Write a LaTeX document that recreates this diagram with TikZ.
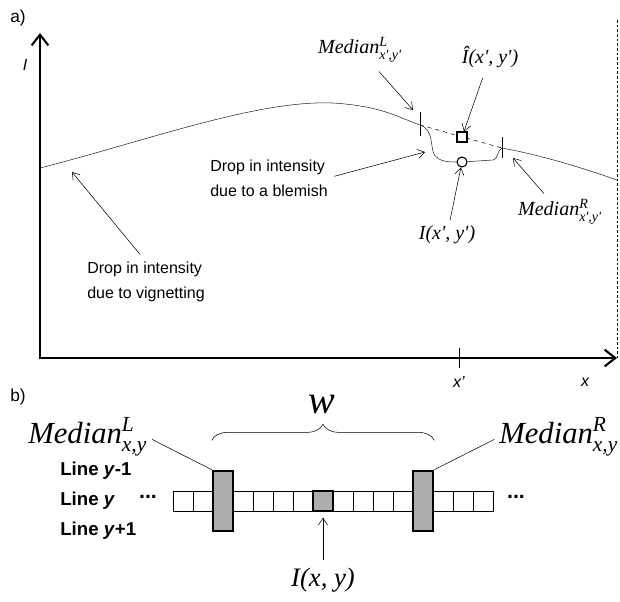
\documentclass[tikz,border=0pt]{standalone}
\usepackage{amsmath}
\usepackage{fontspec}
\setmainfont{Liberation Sans}
\newfontfamily\tnr{Liberation Serif}
\usetikzlibrary{positioning,arrows.meta,decorations.pathreplacing,calc}
\newcommand{\medlab}[2]{{\tnr\itshape Median}$^{\text{\tnr\itshape #1}}_{\text{\tnr\itshape #2}}$}

\begin{document}
\begin{tikzpicture}[x=0.75pt,y=-0.75pt,
    axis/.style={line width=2.2pt,-{Straight Barb[length=2.8mm,width=4.4mm,line width=1.6pt]}},
    pointer/.style={thin,-{Straight Barb[length=1.8mm,width=2.4mm]}},
    txt/.style={font=\fontsize{12}{19}\selectfont,align=left,inner sep=0pt},
    mtop/.style={font=\fontsize{15}{18}\selectfont,inner sep=0pt},
    mbot/.style={font=\fontsize{23}{27}\selectfont,inner sep=0pt},
    cell/.style={draw,thin,minimum size=15pt,inner sep=0pt},
    tallcell/.style={draw,line width=2pt,fill=black!32,minimum width=15pt,minimum height=45pt,inner sep=0pt},
    hotcell/.style={draw,line width=2pt,fill=black!32,minimum size=15pt,inner sep=0pt},
    rowlbl/.style={font=\bfseries\fontsize{14}{16}\selectfont,anchor=west,inner sep=0pt},
    dots/.style={font=\bfseries\fontsize{16}{18}\selectfont,inner sep=0pt}]
    \useasboundingbox (0,0) rectangle (620,601);

    % a) intensity profile
    \node[font=\fontsize{13}{15}\selectfont] (pa) at (18,18) {a)};
    \coordinate (orig) at (40,358);
    \coordinate (ytop) at (40,33);
    \coordinate (xend) at (617,358);
    \draw[axis] ([yshift=-1.1pt]orig) -- (ytop);
    \draw[axis] (orig) -- (xend);
    \draw[dash pattern=on 2pt off 1.5pt] (617,20) -- (617,358);
    \node[font=\itshape\fontsize{12}{14}\selectfont] (ylbl) at (25,65) {I};
    \node[font=\itshape\fontsize{12}{14}\selectfont] (xlbl) at (585,382) {x};
    \draw[semithick] (459,348) -- (459,368);
    \node[font=\itshape\fontsize{12}{14}\selectfont] (xplbl) at (459,382) {x'};

    \coordinate (tkL) at (420,125);
    \coordinate (tkR) at (502,148);
    \node[draw,thick,circle,minimum size=7.5pt,inner sep=0pt] (obs) at (462,162) {};
    \draw[black!85] (40,168) .. controls (150,140) and (270,95) .. (345,104)
        .. controls (385,108) and (400,118) .. (tkL);
    \draw[black!85] (tkL) .. controls (434,130) and (430,146) .. (434,154)
        .. controls (438,161) and (446,162) .. (obs) -- (493,160)
        .. controls (498,160) and (497,150) .. (tkR);
    \draw[black!85] (tkR) .. controls (540,155) and (580,167) .. (617,180);
    \draw[dashed] (tkL) -- (tkR);
    \node[draw,thick,fill=white,minimum size=7.5pt,inner sep=0pt] (est) at (462,137) {};
    \draw[semithick] (420,112) -- (420,136);
    \draw[semithick] (502,137) -- (502,158);

    \coordinate (hitL) at (413,110);
    \coordinate (hitB) at (425,152);
    \coordinate (hitR) at (513,158);
    \coordinate (hitV) at (72,172);
    \node[mtop] (medLt) at (360,50) {\medlab{L}{x',y'}};
    \node[mtop] (hatI) at (490,57) {{\tnr\itshape Î(x', y')}};
    \node[mtop] (obsI) at (447,235) {{\tnr\itshape I(x', y')}};
    \node[mtop] (medRt) at (560,212) {\medlab{R}{x',y'}};
    \node[txt,anchor=west] (blm) at (210,178) {Drop in intensity\\due to a blemish};
    \node[txt,anchor=west] (vig) at (87,282) {Drop in intensity\\due to vignetting};
    \draw[pointer,shorten <=9pt] (medLt) -- (hitL);
    \draw[pointer,shorten <=8pt] (hatI) -- (est);
    \draw[pointer,shorten <=4pt] (obsI) -- (obs);
    \draw[pointer,shorten <=6pt] (medRt) -- (hitR);
    \draw[pointer,shorten <=5pt] (blm.east) -- (hitB);
    \draw[pointer,shorten <=7pt] (vig.north) -- (hitV);

    % b) pixel row
    \node[font=\fontsize{13}{15}\selectfont] (pb) at (18,397) {b)};
    \foreach \i in {0,...,15}
      \node[cell] (c\i) at ({183+20*\i},501) {};
    \node[tallcell] (tallL) at (c2) {};
    \node[tallcell] (tallR) at (c12) {};
    \node[hotcell] (hot) at (c7) {};
    \node[rowlbl] (ln1) at (60,471) {Line \textit{y}-1};
    \node[rowlbl] (ln2) at (60,501) {Line \textit{y}};
    \node[rowlbl] (ln3) at (60,531) {Line \textit{y}+1};
    \node[dots] (dotL) at (148,497) {...};
    \node[dots] (dotR) at (516,497) {...};
    \draw[decorate,decoration={brace,amplitude=12pt}] ([yshift=22pt]tallL.north west) -- ([yshift=22pt]tallR.north east)
        coordinate[midway] (bmid);
    \node[font=\tnr\itshape\fontsize{30}{34}\selectfont] (wlbl) at (322,405) {w};
    \node[mbot,anchor=west] (medLb) at (28,437) {\medlab{L}{x,y}};
    \node[mbot,anchor=west] (medRb) at (499,437) {\medlab{R}{x,y}};
    \draw[shorten <=4pt] (medLb.east) -- (tallL.north west);
    \draw[shorten <=4pt] (medRb.west) -- (tallR.north east);
    \node[font=\fontsize{20}{24}\selectfont,inner sep=0pt] (pxI) at (323,580) {{\tnr\itshape I(x, y)}};
    \draw[pointer,shorten <=6pt,shorten >=4pt] (pxI) -- (hot.south);
  \end{tikzpicture}
\end{document}
